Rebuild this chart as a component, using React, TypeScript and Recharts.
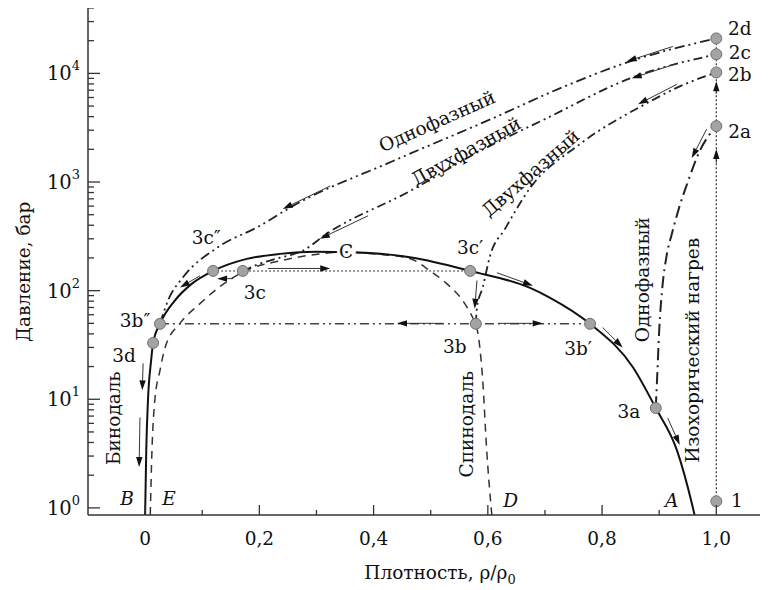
import React from 'react';
import {
  ComposedChart,
  Line,
  Scatter,
  XAxis,
  YAxis,
  ReferenceLine,
  ReferenceDot,
} from 'recharts';

const FONT = '"DejaVu Serif", serif';

// x = relative density rho/rho0, y = pressure (bar)
const binodal = [
  { x: 0, y: 0.86 },
  { x: 0.002, y: 3.4 },
  { x: 0.005, y: 9.8 },
  { x: 0.0105, y: 22.7 },
  { x: 0.014, y: 33 },
  { x: 0.026, y: 49.5 },
  { x: 0.052, y: 81 },
  { x: 0.082, y: 116 },
  { x: 0.119, y: 152 },
  { x: 0.178, y: 196 },
  { x: 0.236, y: 218 },
  { x: 0.3, y: 228 },
  { x: 0.36, y: 226 },
  { x: 0.469, y: 201 },
  { x: 0.569, y: 152 },
  { x: 0.674, y: 106 },
  { x: 0.709, y: 86 },
  { x: 0.779, y: 49.5 },
  { x: 0.854, y: 19.7 },
  { x: 0.894, y: 8.3 },
  { x: 0.931, y: 3.4 },
  { x: 0.957, y: 1.11 },
  { x: 0.962, y: 0.86 },
];

const spinodal = [
  { x: 0.009, y: 0.86 },
  { x: 0.012, y: 3.4 },
  { x: 0.017, y: 9.8 },
  { x: 0.026, y: 18.4 },
  { x: 0.035, y: 30 },
  { x: 0.061, y: 50 },
  { x: 0.096, y: 76 },
  { x: 0.14, y: 118 },
  { x: 0.184, y: 159 },
  { x: 0.236, y: 188 },
  { x: 0.306, y: 218 },
  { x: 0.35, y: 226 },
  { x: 0.41, y: 216 },
  { x: 0.464, y: 197 },
  { x: 0.499, y: 152 },
  { x: 0.528, y: 116 },
  { x: 0.556, y: 81 },
  { x: 0.574, y: 56 },
  { x: 0.579, y: 49.5 },
  { x: 0.586, y: 30 },
  { x: 0.591, y: 15 },
  { x: 0.598, y: 3.4 },
  { x: 0.607, y: 0.86 },
];

// expansion paths, from the end state (3x) up to the heated state (2x)
const path2d = [
  { x: 0.026, y: 49.5 },
  { x: 0.04, y: 81 },
  { x: 0.066, y: 132 },
  { x: 0.126, y: 248 },
  { x: 0.201, y: 395 },
  { x: 0.259, y: 603 },
  { x: 0.434, y: 1560 },
  { x: 0.609, y: 3865 },
  { x: 0.726, y: 7280 },
  { x: 0.849, y: 12900 },
  { x: 1.0, y: 21000 },
];

const path2c = [
  { x: 0.171, y: 152 },
  { x: 0.201, y: 177 },
  { x: 0.236, y: 201 },
  { x: 0.276, y: 233 },
  { x: 0.318, y: 334 },
  { x: 0.464, y: 827 },
  { x: 0.586, y: 1925 },
  { x: 0.703, y: 3865 },
  { x: 0.849, y: 9000 },
  { x: 1.0, y: 15000 },
];

const path2b = [
  { x: 0.579, y: 49.5 },
  { x: 0.581, y: 70 },
  { x: 0.591, y: 107 },
  { x: 0.604, y: 210 },
  { x: 0.63, y: 370 },
  { x: 0.674, y: 880 },
  { x: 0.761, y: 2230 },
  { x: 0.878, y: 5300 },
  { x: 0.936, y: 7600 },
  { x: 1.0, y: 10200 },
];

const path2a = [
  { x: 0.894, y: 8.3 },
  { x: 0.897, y: 18.5 },
  { x: 0.9, y: 43 },
  { x: 0.905, y: 100 },
  { x: 0.913, y: 210 },
  { x: 0.922, y: 331 },
  { x: 0.934, y: 560 },
  { x: 0.95, y: 1000 },
  { x: 0.971, y: 1930 },
  { x: 1.0, y: 3270 },
];

const isochore = [
  { x: 1.0, y: 1.15 },
  { x: 1.0, y: 21000 },
];
const tie3c = [
  { x: 0.119, y: 152 },
  { x: 0.569, y: 152 },
];
const tie3b = [
  { x: 0.026, y: 49.5 },
  { x: 0.779, y: 49.5 },
];

const states = [
  { name: '1', x: 1.0, y: 1.15 },
  { name: '2a', x: 1.0, y: 3270 },
  { name: '2b', x: 1.0, y: 10200 },
  { name: '2c', x: 1.0, y: 15000 },
  { name: '2d', x: 1.0, y: 21000 },
  { name: '3a', x: 0.894, y: 8.3 },
  { name: '3b', x: 0.579, y: 49.5 },
  { name: '3b′', x: 0.779, y: 49.5 },
  { name: '3b″', x: 0.026, y: 49.5 },
  { name: '3c', x: 0.171, y: 152 },
  { name: '3c′', x: 0.569, y: 152 },
  { name: '3c″', x: 0.119, y: 152 },
  { name: '3d', x: 0.014, y: 33 },
];

// direction arrows drawn beside the paths
const arrows = [
  { x1: 0.924, y1: 17700, x2: 0.843, y2: 12900 },
  { x1: 0.324, y1: 919, x2: 0.241, y2: 565 },
  { x1: 0.931, y1: 12360, x2: 0.852, y2: 9000 },
  { x1: 0.39, y1: 488, x2: 0.306, y2: 300 },
  { x1: 0.931, y1: 7930, x2: 0.863, y2: 5200 },
  { x1: 0.983, y1: 3063, x2: 0.957, y2: 1660 },
  { x1: 1.0, y1: 6500, x2: 1.0, y2: 8450 },
  { x1: 1.0, y1: 1500, x2: 1.0, y2: 2009 },
  { x1: 0.215, y1: 160, x2: 0.324, y2: 160 },
  { x1: 0.154, y1: 129, x2: 0.126, y2: 129 },
  { x1: 0.521, y1: 50, x2: 0.441, y2: 50 },
  { x1: 0.618, y1: 50, x2: 0.696, y2: 50 },
  { x1: 0.616, y1: 146, x2: 0.679, y2: 111 },
  { x1: 0.801, y1: 45.8, x2: 0.836, y2: 30 },
  { x1: 0.915, y1: 6.7, x2: 0.936, y2: 3.8 },
  { x1: -0.0035, y1: 21.4, x2: -0.005, y2: 12.1 },
  { x1: -0.009, y1: 6.8, x2: -0.0105, y2: 2.38 },
  { x1: 0.581, y1: 124, x2: 0.577, y2: 68 },
  { x1: 0.096, y1: 137, x2: 0.061, y2: 107 },
];

const annotations = [
  { text: '2d', x: 1.041, y: 25900 },
  { text: '2c', x: 1.041, y: 15600 },
  { text: '2b', x: 1.041, y: 9790 },
  { text: '2a', x: 1.041, y: 2940 },
  { text: '1', x: 1.036, y: 1.18 },
  { text: '3a', x: 0.847, y: 7.76 },
  { text: '3b′', x: 0.758, y: 29.4 },
  { text: '3b', x: 0.542, y: 30.6 },
  { text: '3b″', x: -0.0175, y: 53 },
  { text: '3d', x: -0.037, y: 25.3 },
  { text: '3c″', x: 0.107, y: 306 },
  { text: '3c', x: 0.192, y: 96 },
  { text: '3c′', x: 0.569, y: 248 },
  { text: 'C', x: 0.352, y: 228, halo: true },
  { text: 'B', x: -0.0315, y: 1.21, italic: true },
  { text: 'E', x: 0.042, y: 1.21, italic: true },
  { text: 'D', x: 0.64, y: 1.18, italic: true },
  { text: 'A', x: 0.922, y: 1.18, italic: true },
  { text: 'Бинодаль', x: -0.056, y: 6.7, angle: -90 },
  { text: 'Спинодаль', x: 0.562, y: 5.9, angle: -90 },
  { text: 'Однофазный', x: 0.871, y: 126, angle: -90 },
  { text: 'Изохорический  нагрев', x: 0.958, y: 28.2, angle: -90 },
  { text: 'Однофазный', x: 0.511, y: 3630, angle: -24 },
  { text: 'Двухфазный', x: 0.562, y: 1925, angle: -29 },
  { text: 'Двухфазный', x: 0.675, y: 1210, angle: -41 },
  // y-axis title, placed left of the plot
  { text: 'Давление, бар', x: -0.2135, y: 149, angle: -90 },
];

const xMajorTicks = [0, 0.2, 0.4, 0.6, 0.8, 1.0];
const xTickLabels = ['0', '0,2', '0,4', '0,6', '0,8', '1,0'];
const xMinorTicks = [0.1, 0.3, 0.5, 0.7, 0.9];
const xTicks = [...xMajorTicks, ...xMinorTicks].sort((a, b) => a - b);

const yMajorTicks = [1, 10, 100, 1000, 10000];
const yMinorSteps = [2, 3, 4, 5, 6, 7, 8, 9];
const yTicks = yMajorTicks
  .flatMap((d) => [d, ...yMinorSteps.map((m) => m * d)])
  .filter((v) => v <= 40000);

const TEXT = '#111';

const XTick = (props: any) => {
  const { x, y, payload } = props;
  const i = xMajorTicks.findIndex((t) => Math.abs(t - payload.value) < 1e-6);
  const major = i >= 0;
  return (
    <g>
      <line x1={x} x2={x} y1={y} y2={y - (major ? 10 : 5)} stroke="#333" strokeWidth={1.3} />
      {major && (
        <text x={x} y={y + 30} textAnchor="middle" fontSize={18.5} fontFamily={FONT} fill={TEXT}>
          {xTickLabels[i]}
        </text>
      )}
    </g>
  );
};

const YTick = (props: any) => {
  const { x, y, payload } = props;
  const i = yMajorTicks.findIndex((t) => Math.abs(t - payload.value) < 1e-6);
  const major = i >= 0;
  return (
    <g>
      <line x1={x} x2={x + (major ? 12 : 6)} y1={y} y2={y} stroke="#333" strokeWidth={1.3} />
      {major && (
        <text x={x - 8} y={y + 7} textAnchor="end" fontSize={19.5} fontFamily={FONT} fill={TEXT}>
          10
          <tspan dy={-10} fontSize={13}>
            {i}
          </tspan>
        </text>
      )}
    </g>
  );
};

const Arrow = (props: any) => {
  const { x1, y1, x2, y2 } = props;
  const dx = x2 - x1;
  const dy = y2 - y1;
  const len = Math.sqrt(dx * dx + dy * dy) || 1;
  const ux = dx / len;
  const uy = dy / len;
  const hl = 10;
  const hw = 3.2;
  const bx = x2 - ux * hl;
  const by = y2 - uy * hl;
  return (
    <g>
      <line x1={x1} y1={y1} x2={bx} y2={by} stroke="#333" strokeWidth={1} />
      <polygon
        points={`${x2},${y2} ${bx - uy * hw},${by + ux * hw} ${bx + uy * hw},${by - ux * hw}`}
        fill="#111"
      />
    </g>
  );
};

const makeLabel = (a: any) => (p: any) => {
  const { cx, cy } = p;
  return (
    <text
      x={cx}
      y={cy}
      textAnchor="middle"
      dominantBaseline="central"
      fontSize={18.5}
      fontFamily={FONT}
      fontStyle={a.italic ? 'italic' : 'normal'}
      fill={TEXT}
      stroke={a.halo ? '#fff' : 'none'}
      strokeWidth={a.halo ? 6 : 0}
      paintOrder="stroke"
      transform={a.angle ? `rotate(${a.angle}, ${cx}, ${cy})` : undefined}
    >
      {a.text}
    </text>
  );
};

const StatePoint = (p: any) => (
  <circle cx={p.cx} cy={p.cy} r={5.5} fill="#a3a3a3" stroke="#707070" strokeWidth={1} />
);

const App = () => {
  return (
    <div style={{ width: 760, height: 582, fontFamily: FONT }}>
      <ComposedChart
        width={760}
        height={582}
        margin={{ top: 0, right: 6, bottom: 15, left: 10 }}
      >
        <XAxis
          dataKey="x"
          type="number"
          domain={[-0.1, 1.08]}
          allowDataOverflow
          ticks={xTicks}
          interval={0}
          tick={<XTick />}
          tickLine={false}
          tickSize={0}
          tickMargin={0}
          height={60}
          axisLine={{ stroke: '#333', strokeWidth: 1.5 }}
          label={{
            content: () => (
              <text x={432} y={571} textAnchor="middle" fontSize={18.5} fontFamily={FONT} fill={TEXT}>
                Плотность, ρ/ρ
                <tspan dy={5} fontSize={13}>
                  0
                </tspan>
              </text>
            ),
          }}
        />
        <YAxis
          type="number"
          scale="log"
          domain={[0.86, 40000]}
          allowDataOverflow
          ticks={yTicks}
          interval={0}
          tick={<YTick />}
          tickLine={false}
          tickSize={0}
          tickMargin={0}
          width={70}
          axisLine={{ stroke: '#333', strokeWidth: 1.5 }}
        />

        <Line data={tie3c} dataKey="y" type="linear" stroke="#9a9a9a" strokeWidth={2} strokeDasharray="2 2" dot={false} activeDot={false} isAnimationActive={false} />
        <Line data={tie3b} dataKey="y" type="linear" stroke="#444" strokeWidth={1.5} strokeDasharray="9 4 2 4 2 4" dot={false} activeDot={false} isAnimationActive={false} />
        <Line data={isochore} dataKey="y" type="linear" stroke="#333" strokeWidth={1.2} strokeDasharray="2 2" dot={false} activeDot={false} isAnimationActive={false} />
        <Line data={spinodal} dataKey="y" type="monotone" stroke="#333" strokeWidth={1.5} strokeDasharray="8 6" dot={false} activeDot={false} isAnimationActive={false} />
        <Line data={path2a} dataKey="y" type="monotone" stroke="#222" strokeWidth={2} strokeDasharray="12 5 2 5" dot={false} activeDot={false} isAnimationActive={false} />
        <Line data={path2b} dataKey="y" type="monotone" stroke="#222" strokeWidth={1.8} strokeDasharray="9 4 2 4 2 4" dot={false} activeDot={false} isAnimationActive={false} />
        <Line data={path2c} dataKey="y" type="monotone" stroke="#222" strokeWidth={1.8} strokeDasharray="9 4 2 4 2 4" dot={false} activeDot={false} isAnimationActive={false} />
        <Line data={path2d} dataKey="y" type="monotone" stroke="#222" strokeWidth={1.8} strokeDasharray="10 4 2 4 2 4" dot={false} activeDot={false} isAnimationActive={false} />
        <Line data={binodal} dataKey="y" type="monotone" stroke="#111" strokeWidth={2} dot={false} activeDot={false} isAnimationActive={false} />

        {arrows.map((a, k) => (
          <ReferenceLine
            key={`ar${k}`}
            segment={[
              { x: a.x1, y: a.y1 },
              { x: a.x2, y: a.y2 },
            ]}
            shape={Arrow}
          />
        ))}

        <Scatter data={states} dataKey="y" shape={StatePoint} isAnimationActive={false} />

        {annotations.map((a, k) => (
          <ReferenceDot
            key={`lb${k}`}
            x={a.x}
            y={a.y}
            r={0}
            ifOverflow="visible"
            shape={makeLabel(a)}
          />
        ))}
      </ComposedChart>
    </div>
  );
};

export default App;
